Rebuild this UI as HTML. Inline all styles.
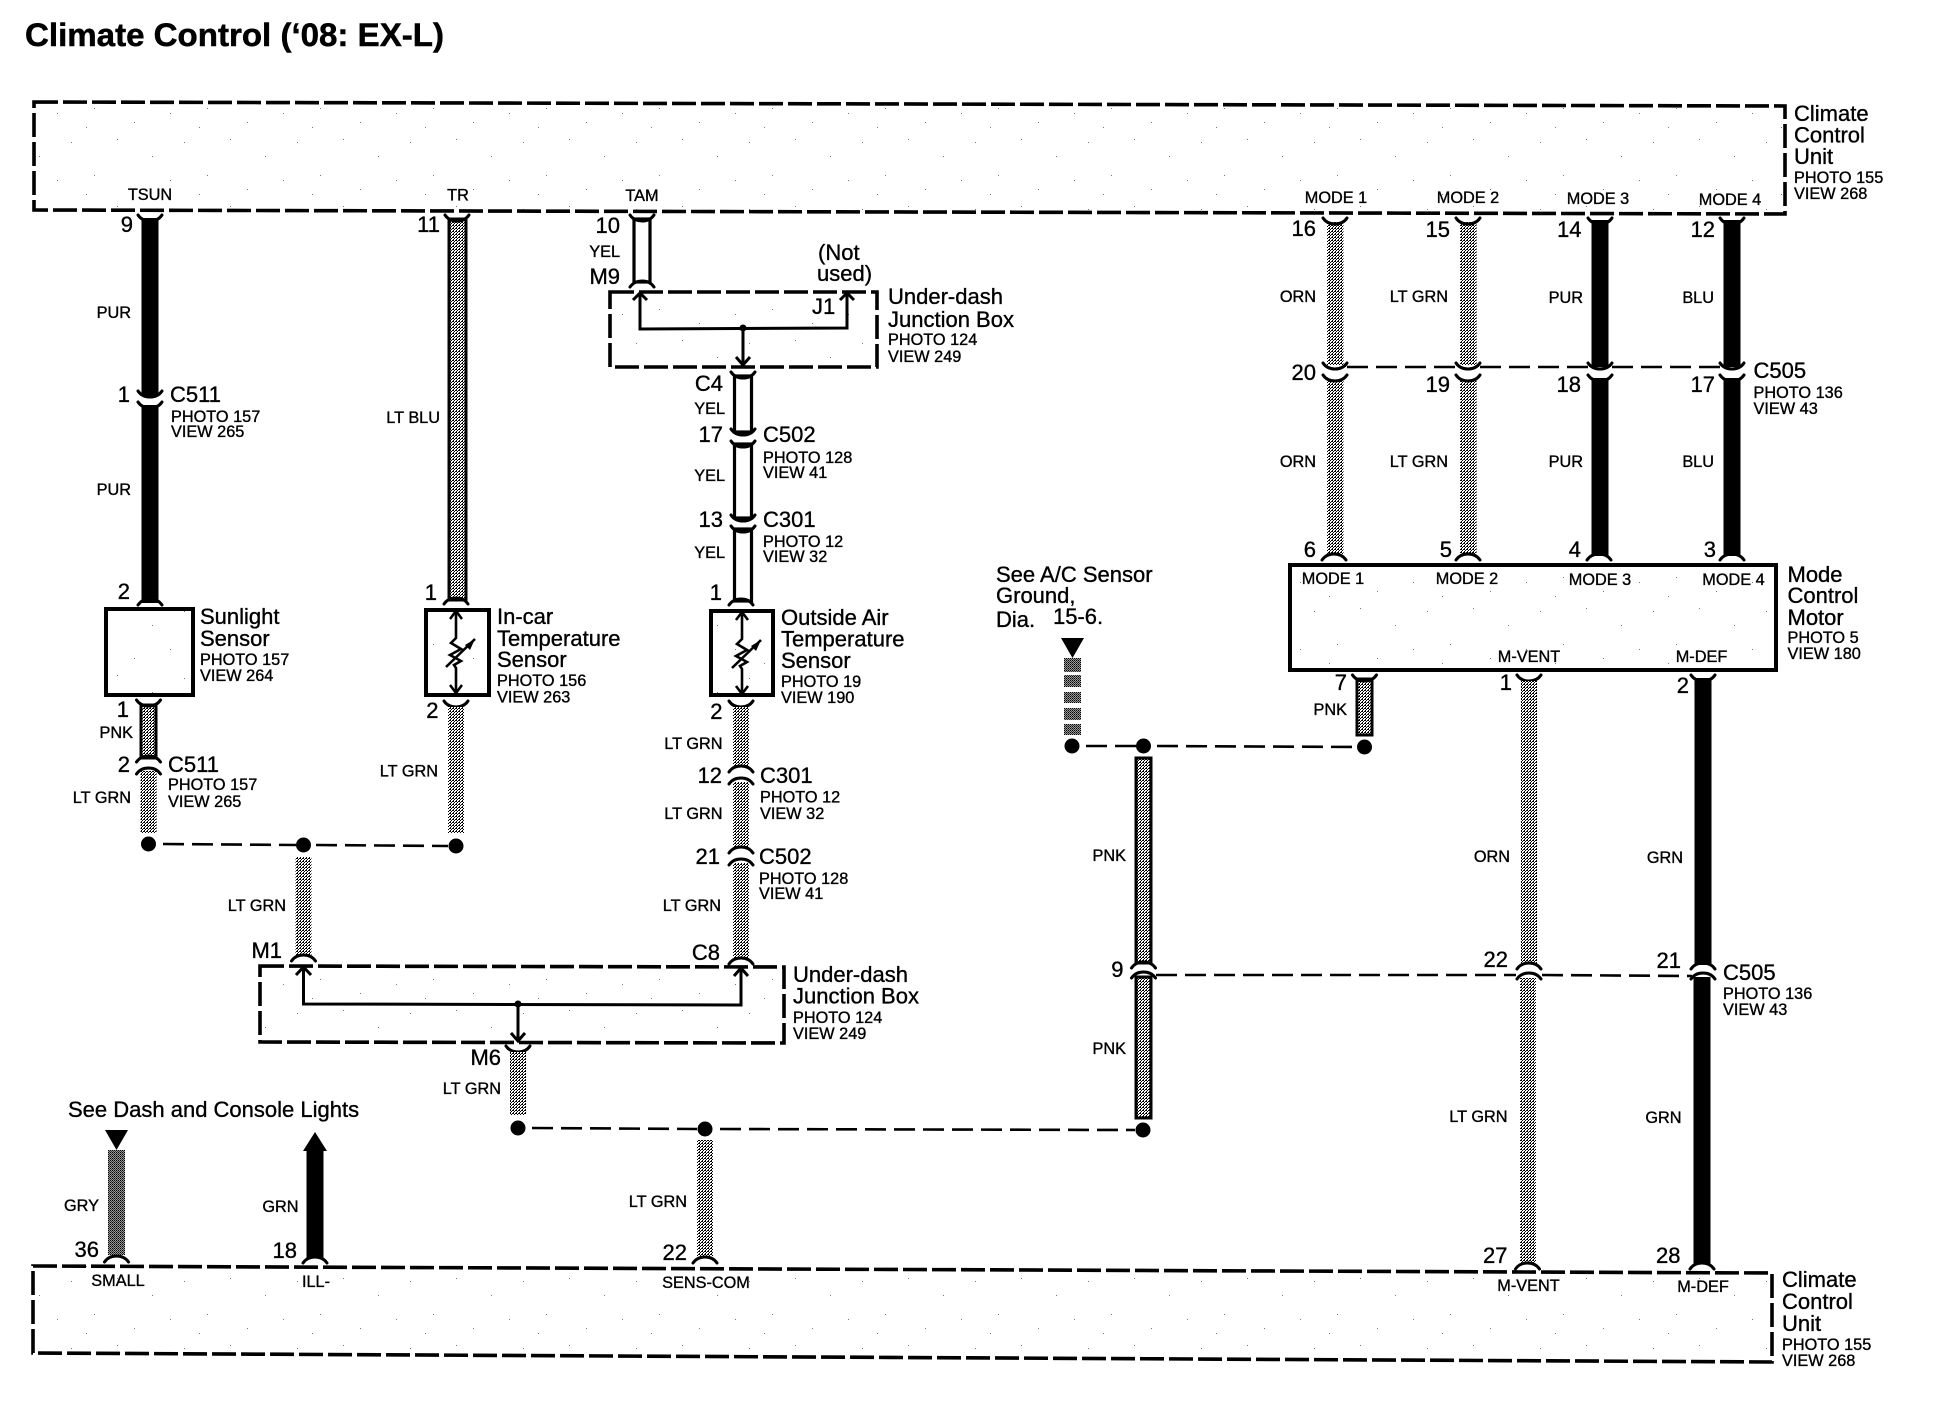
<!DOCTYPE html>
<html><head><meta charset="utf-8"><title>Climate Control</title>
<style>
html,body{margin:0;padding:0;background:#fff}
svg{display:block}
text{font-family:"Liberation Sans",Arial,sans-serif;fill:#000;stroke:#000;stroke-width:.35}
.s{font-size:16.3px}
.b{font-size:22px}
.t{font-size:32.6px;font-weight:bold;stroke-width:.5}
.e{text-anchor:end}
.m{text-anchor:middle}
.con{fill:none;stroke:#000;stroke-width:3;stroke-linecap:round}
.box{fill:url(#sp);stroke:#000;stroke-width:3.6;stroke-dasharray:24 5}
.sol{fill:url(#sp);stroke:#000;stroke-width:4}
.ln{fill:none;stroke:#000;stroke-width:3}
.dl{fill:none;stroke:#000;stroke-width:2.6;stroke-dasharray:21 8}
.k{fill:#000}
.d{fill:url(#dp)}
.g{fill:url(#dk)}
.o{fill:url(#dp);stroke:#000;stroke-width:3}
.w{fill:#fff;stroke:#000;stroke-width:3.2}
</style></head><body>
<svg xmlns="http://www.w3.org/2000/svg" width="1942" height="1408" viewBox="0 0 1942 1408">
<defs>
<pattern id="dp" patternUnits="userSpaceOnUse" width="3" height="3"><rect width="3" height="3" fill="#fff"/><rect width="1" height="1" fill="#000"/><rect x="2" y="0" width="1" height="1" fill="#000"/><rect x="1" y="1" width="1" height="1" fill="#000"/><rect x="0" y="2" width="1" height="1" fill="#000"/></pattern>
<pattern id="dk" patternUnits="userSpaceOnUse" width="2" height="2"><rect width="2" height="2" fill="#999"/><rect width="1" height="1" fill="#000"/><rect x="1" y="1" width="1" height="1" fill="#333"/></pattern>
<pattern id="sp" patternUnits="userSpaceOnUse" width="113" height="67"><rect width="113" height="67" fill="#fff"/><rect x="4" y="5" width="1" height="1" fill="#777"/><rect x="39" y="22" width="1" height="1" fill="#777"/><rect x="71" y="8" width="1" height="1" fill="#777"/><rect x="94" y="41" width="1" height="1" fill="#777"/><rect x="21" y="55" width="1" height="1" fill="#777"/><rect x="57" y="46" width="1" height="1" fill="#777"/><rect x="86" y="60" width="1" height="1" fill="#777"/></pattern>
<path id="sm" class="con" d="M-12,-3 Q-8,3 0,3 Q8,3 12,-3"/>
<path id="fr" class="con" d="M-12,3 Q-8,-3 0,-3 Q8,-3 12,3"/>
<circle id="dot" r="7.5" fill="#000"/>
<path id="ther" fill="none" stroke="#000" stroke-width="2.6" d="M0,-40 L0,-14 L-5,-9 L5,-3 L-6,3 L5,9 L-2,13 L0,16 L0,40 M-6,-33 L0,-41 L6,-33 M-6,33 L0,41 L6,33 M-10,15 L19,-13"/>
<path id="therh" fill="#000" d="M19,-13 L9,-7 L14,-2 Z"/>
</defs>
<rect width="1942" height="1408" fill="#fff"/>

<text x="25" y="46" class="t" textLength="419" lengthAdjust="spacingAndGlyphs">Climate Control (‘08: EX-L)</text>

<!-- Top unit box -->
<path class="box" d="M34,102 L1785,106 L1785,214 L34,210 Z"/>
<text x="150" y="200" class="s m">TSUN</text>
<text x="458" y="200.5" class="s m">TR</text>
<text x="642" y="201" class="s m">TAM</text>
<text x="1336" y="203" class="s m">MODE 1</text>
<text x="1468" y="203" class="s m">MODE 2</text>
<text x="1598" y="204" class="s m">MODE 3</text>
<text x="1730" y="205" class="s m">MODE 4</text>
<text x="1794" y="121" class="b">Climate</text>
<text x="1794" y="142.500" class="b">Control</text>
<text x="1794" y="164" class="b">Unit</text>
<text x="1794" y="183" class="s">PHOTO 155</text>
<text x="1794" y="199" class="s">VIEW 268</text>

<!-- TSUN wire -->
<rect class="k" x="141.500" y="218" width="17" height="178"/>
<rect class="k" x="141.500" y="405" width="17" height="198"/>
<use href="#sm" x="150" y="218"/><use href="#sm" x="150" y="394"/><use href="#sm" x="150" y="405"/><use href="#fr" x="150" y="602"/>
<text x="133" y="232" class="b e">9</text>
<text x="131" y="318" class="s e">PUR</text>
<text x="130" y="402" class="b e">1</text>
<text x="170" y="402" class="b">C511</text>
<text x="171" y="422" class="s">PHOTO 157</text>
<text x="171" y="437" class="s">VIEW 265</text>
<text x="131" y="495" class="s e">PUR</text>
<text x="130" y="599" class="b e">2</text>

<!-- Sunlight sensor -->
<rect class="sol" x="106" y="609" width="87" height="86"/>
<text x="200" y="624" class="b">Sunlight</text>
<text x="200" y="646" class="b">Sensor</text>
<text x="200" y="665" class="s">PHOTO 157</text>
<text x="200" y="681" class="s">VIEW 264</text>
<rect class="o" x="141" y="705" width="15" height="53"/>
<use href="#sm" x="148.500" y="703"/><use href="#fr" x="148.500" y="759"/><use href="#fr" x="148.500" y="771"/>
<rect class="d" x="140.500" y="771" width="16" height="62"/>
<text x="129" y="717" class="b e">1</text>
<text x="133" y="738" class="s e">PNK</text>
<text x="130" y="772" class="b e">2</text>
<text x="168" y="772" class="b">C511</text>
<text x="168" y="790" class="s">PHOTO 157</text>
<text x="168" y="807" class="s">VIEW 265</text>
<text x="131" y="803" class="s e">LT GRN</text>

<!-- TR wire -->
<rect class="o" x="449" y="219" width="17" height="381"/>
<use href="#sm" x="457" y="218"/><use href="#fr" x="456" y="601"/>
<text x="440" y="232" class="b e">11</text>
<text x="440" y="423" class="s e">LT BLU</text>
<text x="437" y="600" class="b e">1</text>
<rect class="sol" x="426" y="610" width="63" height="85"/>
<use href="#ther" x="456" y="652"/><use href="#therh" x="456" y="652"/>
<text x="497" y="624" class="b">In-car</text>
<text x="497" y="646" class="b">Temperature</text>
<text x="497" y="667" class="b">Sensor</text>
<text x="497" y="686" class="s">PHOTO 156</text>
<text x="497" y="702.500" class="s">VIEW 263</text>
<use href="#sm" x="456" y="704"/>
<rect class="d" x="448" y="707" width="16" height="126"/>
<text x="438.500" y="718" class="b e">2</text>
<text x="438" y="776.500" class="s e">LT GRN</text>

<!-- First junction line -->
<use href="#dot" x="148.500" y="844"/><use href="#dot" x="303.500" y="845"/><use href="#dot" x="456" y="846"/>
<path class="dl" d="M163,844 L296,845 M316,845 L448,846"/>
<rect class="d" x="295.500" y="857" width="16" height="98"/>
<use href="#fr" x="303.500" y="958"/>
<text x="286" y="911" class="s e">LT GRN</text>
<text x="282" y="958" class="b e">M1</text>

<!-- TAM wire -->
<rect class="w" x="634" y="219" width="16" height="63"/>
<use href="#sm" x="642" y="218"/><use href="#fr" x="642" y="284"/>
<text x="620" y="233" class="b e">10</text>
<text x="620" y="257" class="s e">YEL</text>
<text x="620" y="284" class="b e">M9</text>

<!-- Upper under-dash -->
<path class="box" d="M610,292 L877,292 L877,367 L610,367 Z"/>
<path class="ln" d="M640,294 L640,329 L847,328 L847,294 M743,328 L743,364"/>
<path class="ln" d="M633,300 L640,293 L647,300 M840,300 L847,293 L854,300 M736,357 L743,365 L750,357"/>
<circle cx="743" cy="328" r="3.500" fill="#000"/>
<text x="818" y="260" class="b">(Not</text>
<text x="817" y="281" class="b">used)</text>
<text x="812" y="314" class="b">J1</text>
<text x="888" y="304" class="b">Under-dash</text>
<text x="888" y="327" class="b">Junction Box</text>
<text x="888" y="345" class="s">PHOTO 124</text>
<text x="888" y="362" class="s">VIEW 249</text>

<!-- YEL chain -->
<rect class="w" x="734.500" y="376" width="17" height="56"/>
<rect class="w" x="734.500" y="444" width="17" height="74"/>
<rect class="w" x="734.500" y="529" width="17" height="72"/>
<use href="#sm" x="743" y="375"/><use href="#sm" x="743" y="432"/><use href="#sm" x="743" y="444"/><use href="#sm" x="743" y="518"/><use href="#sm" x="743" y="529"/><use href="#fr" x="741" y="602"/>
<text x="723" y="391" class="b e">C4</text>
<text x="725" y="414" class="s e">YEL</text>
<text x="723" y="442" class="b e">17</text>
<text x="763" y="442" class="b">C502</text>
<text x="763" y="463" class="s">PHOTO 128</text>
<text x="763" y="478" class="s">VIEW 41</text>
<text x="725" y="481" class="s e">YEL</text>
<text x="723" y="527" class="b e">13</text>
<text x="763" y="527" class="b">C301</text>
<text x="763" y="547" class="s">PHOTO 12</text>
<text x="763" y="562" class="s">VIEW 32</text>
<text x="725" y="558" class="s e">YEL</text>
<text x="722" y="600" class="b e">1</text>

<!-- Outside air sensor -->
<rect class="sol" x="711" y="611" width="62" height="84"/>
<use href="#ther" x="742" y="653"/><use href="#therh" x="742" y="653"/>
<text x="781" y="625" class="b">Outside Air</text>
<text x="781" y="646.500" class="b">Temperature</text>
<text x="781" y="668" class="b">Sensor</text>
<text x="781" y="687" class="s">PHOTO 19</text>
<text x="781" y="703" class="s">VIEW 190</text>
<use href="#sm" x="741" y="704"/>
<rect class="d" x="733" y="707" width="16" height="60"/>
<use href="#fr" x="741" y="769"/><use href="#fr" x="741" y="781"/>
<rect class="d" x="733" y="782" width="16" height="66"/>
<use href="#fr" x="741" y="850"/><use href="#fr" x="741" y="862"/>
<rect class="d" x="733" y="863" width="16" height="95"/>
<use href="#fr" x="741" y="961"/>
<text x="722.500" y="719" class="b e">2</text>
<text x="722.500" y="749" class="s e">LT GRN</text>
<text x="722" y="783" class="b e">12</text>
<text x="760" y="783" class="b">C301</text>
<text x="760" y="802.500" class="s">PHOTO 12</text>
<text x="760" y="819" class="s">VIEW 32</text>
<text x="722.500" y="819" class="s e">LT GRN</text>
<text x="720" y="864" class="b e">21</text>
<text x="759" y="864" class="b">C502</text>
<text x="759" y="884" class="s">PHOTO 128</text>
<text x="759" y="899" class="s">VIEW 41</text>
<text x="721" y="911" class="s e">LT GRN</text>
<text x="720" y="960" class="b e">C8</text>

<!-- Lower under-dash -->
<path class="box" d="M260,966 L784,967 L784,1043 L260,1042 Z"/>
<path class="ln" d="M303.500,968 L303.500,1004 L741,1005 L741,969 M518,1004 L518,1040"/>
<path class="ln" d="M296,975 L303.500,967 L311,975 M734,976 L741,968 L748,976 M511,1033 L518,1041 L525,1033"/>
<circle cx="518" cy="1004" r="3.500" fill="#000"/>
<text x="793" y="982" class="b">Under-dash</text>
<text x="793" y="1003.500" class="b">Junction Box</text>
<text x="793" y="1023" class="s">PHOTO 124</text>
<text x="793" y="1039" class="s">VIEW 249</text>

<!-- M6 -->
<use href="#sm" x="518" y="1049"/>
<rect class="d" x="510" y="1052" width="16" height="63"/>
<text x="501" y="1065" class="b e">M6</text>
<text x="501" y="1094" class="s e">LT GRN</text>
<use href="#dot" x="518" y="1128"/><use href="#dot" x="705" y="1129"/><use href="#dot" x="1143" y="1130"/>
<path class="dl" d="M532,1128 L697,1129 M720,1129 L1135,1130"/>
<rect class="d" x="697" y="1140" width="16" height="116"/>
<use href="#fr" x="705" y="1260"/>
<text x="687" y="1207" class="s e">LT GRN</text>
<text x="687" y="1260" class="b e">22</text>

<!-- See dash -->
<text x="68" y="1117" class="b">See Dash and Console Lights</text>
<path class="k" d="M105,1130 L128,1130 L116.500,1150 Z"/>
<rect class="g" x="108" y="1150" width="17" height="105"/>
<use href="#fr" x="116.500" y="1259"/>
<text x="99" y="1211" class="s e">GRY</text>
<text x="99" y="1257" class="b e">36</text>
<path class="k" d="M315,1132 L327,1151 L323.500,1151 L323.500,1258 L306.500,1258 L306.500,1151 L303,1151 Z"/>
<use href="#fr" x="315" y="1260"/>
<text x="298.500" y="1212" class="s e">GRN</text>
<text x="297" y="1258" class="b e">18</text>

<!-- Bottom unit box -->
<path class="box" d="M33,1266 L1772,1273 L1772,1362 L33,1353 Z"/>
<text x="118" y="1286" class="s m">SMALL</text>
<text x="316" y="1287" class="s m">ILL-</text>
<text x="706" y="1288" class="s m">SENS-COM</text>
<text x="1528.500" y="1291" class="s m">M-VENT</text>
<text x="1703" y="1292" class="s m">M-DEF</text>
<text x="1782" y="1287" class="b">Climate</text>
<text x="1782" y="1309" class="b">Control</text>
<text x="1782" y="1331" class="b">Unit</text>
<text x="1782" y="1350" class="s">PHOTO 155</text>
<text x="1782" y="1366" class="s">VIEW 268</text>

<!-- Mode wires -->
<rect class="d" x="1327" y="222" width="16.500" height="143"/>
<rect class="d" x="1327" y="380" width="16.500" height="174"/>
<rect class="d" x="1460" y="222" width="16.500" height="143"/>
<rect class="d" x="1460" y="380" width="16.500" height="174"/>
<rect class="k" x="1591.500" y="220" width="17" height="147"/>
<rect class="k" x="1591.500" y="378" width="17" height="178"/>
<rect class="k" x="1723.500" y="220" width="17" height="147"/>
<rect class="k" x="1723.500" y="378" width="17" height="178"/>
<use href="#sm" x="1335" y="221"/><use href="#sm" x="1468" y="221"/><use href="#sm" x="1600" y="221"/><use href="#sm" x="1732" y="221"/>
<use href="#sm" x="1335" y="366"/><use href="#sm" x="1468" y="366"/><use href="#sm" x="1600" y="366"/><use href="#sm" x="1732" y="366"/>
<use href="#sm" x="1335" y="378"/><use href="#sm" x="1468" y="378"/><use href="#sm" x="1600" y="378"/><use href="#sm" x="1732" y="378"/>
<use href="#fr" x="1334" y="557"/><use href="#fr" x="1468" y="557"/><use href="#fr" x="1599" y="557"/><use href="#fr" x="1732" y="557"/>
<path class="dl" d="M1347,367 L1456,367 M1480,367 L1588,367 M1612,367 L1720,367"/>
<text x="1316" y="236" class="b e">16</text>
<text x="1450" y="237" class="b e">15</text>
<text x="1581.500" y="237" class="b e">14</text>
<text x="1715" y="237" class="b e">12</text>
<text x="1316" y="302" class="s e">ORN</text>
<text x="1448" y="302" class="s e">LT GRN</text>
<text x="1583" y="303" class="s e">PUR</text>
<text x="1714" y="303" class="s e">BLU</text>
<text x="1316" y="380" class="b e">20</text>
<text x="1450" y="392" class="b e">19</text>
<text x="1581" y="392" class="b e">18</text>
<text x="1715" y="392" class="b e">17</text>
<text x="1753.500" y="378" class="b">C505</text>
<text x="1753.500" y="398" class="s">PHOTO 136</text>
<text x="1753.500" y="414" class="s">VIEW 43</text>
<text x="1316" y="467" class="s e">ORN</text>
<text x="1448" y="467" class="s e">LT GRN</text>
<text x="1583" y="467" class="s e">PUR</text>
<text x="1714" y="467" class="s e">BLU</text>
<text x="1316" y="557" class="b e">6</text>
<text x="1452" y="557" class="b e">5</text>
<text x="1581" y="557" class="b e">4</text>
<text x="1716" y="557" class="b e">3</text>

<!-- Motor -->
<rect class="sol" x="1290" y="565" width="486" height="105"/>
<text x="1333" y="584" class="s m">MODE 1</text>
<text x="1467" y="584" class="s m">MODE 2</text>
<text x="1600" y="585" class="s m">MODE 3</text>
<text x="1733.500" y="585" class="s m">MODE 4</text>
<text x="1529" y="662" class="s m">M-VENT</text>
<text x="1701.500" y="662" class="s m">M-DEF</text>
<text x="1787.500" y="582" class="b">Mode</text>
<text x="1787.500" y="603" class="b">Control</text>
<text x="1787.500" y="625" class="b">Motor</text>
<text x="1787.500" y="643" class="s">PHOTO 5</text>
<text x="1787.500" y="659" class="s">VIEW 180</text>

<!-- See A/C -->
<text x="996" y="582" class="b">See A/C Sensor</text>
<text x="996" y="603" class="b">Ground,</text>
<text x="996" y="627" class="b">Dia.</text>
<text x="1053" y="624" class="b">15-6.</text>
<path class="k" d="M1061,638 L1084,638 L1072.500,658 Z"/>
<rect class="g" x="1064" y="658" width="17" height="14"/>
<rect class="g" x="1064" y="675" width="17" height="12"/>
<rect class="g" x="1064" y="692" width="17" height="11"/>
<rect class="g" x="1064" y="708" width="17" height="12"/>
<rect class="g" x="1064" y="724" width="17" height="11"/>

<!-- pin 7 and pnk -->
<rect class="o" x="1357" y="679" width="15" height="56"/>
<use href="#sm" x="1364.500" y="678"/>
<text x="1347" y="690" class="b e">7</text>
<text x="1347" y="715" class="s e">PNK</text>
<use href="#dot" x="1072" y="746"/><use href="#dot" x="1143.500" y="746"/><use href="#dot" x="1364.500" y="747"/>
<path class="dl" d="M1086,746 L1136,746 M1157,746 L1357,747"/>
<rect class="o" x="1136" y="758" width="15" height="205"/>
<use href="#fr" x="1143.500" y="965"/><use href="#fr" x="1143.500" y="975"/>
<rect class="o" x="1136" y="977" width="15" height="141"/>
<text x="1126" y="861" class="s e">PNK</text>
<text x="1126" y="1054" class="s e">PNK</text>
<text x="1123.500" y="977" class="b e">9</text>

<!-- M-VENT -->
<use href="#sm" x="1529" y="678"/>
<rect class="d" x="1521" y="681" width="16" height="283"/>
<use href="#fr" x="1529" y="966"/><use href="#fr" x="1529" y="976"/>
<rect class="d" x="1520" y="978" width="16" height="285"/>
<use href="#fr" x="1527.500" y="1266"/>
<text x="1512" y="690" class="b e">1</text>
<text x="1510" y="862" class="s e">ORN</text>
<text x="1508" y="967" class="b e">22</text>
<text x="1507.500" y="1122" class="s e">LT GRN</text>
<text x="1507.500" y="1263" class="b e">27</text>

<!-- M-DEF -->
<rect class="k" x="1694.500" y="678" width="17" height="287"/>
<rect class="k" x="1693.500" y="977" width="17" height="287"/>
<use href="#sm" x="1703" y="678"/>
<use href="#fr" x="1703" y="966"/><use href="#fr" x="1703" y="976"/>
<use href="#fr" x="1702" y="1266"/>
<text x="1689" y="693" class="b e">2</text>
<text x="1683" y="863" class="s e">GRN</text>
<text x="1681" y="968" class="b e">21</text>
<text x="1681.500" y="1123" class="s e">GRN</text>
<text x="1680.500" y="1263" class="b e">28</text>
<text x="1723" y="980" class="b">C505</text>
<text x="1723" y="999" class="s">PHOTO 136</text>
<text x="1723" y="1015" class="s">VIEW 43</text>
<path class="dl" d="M1156,975 L1516,975 M1542,975 L1692,976"/>
</svg>
</body></html>
